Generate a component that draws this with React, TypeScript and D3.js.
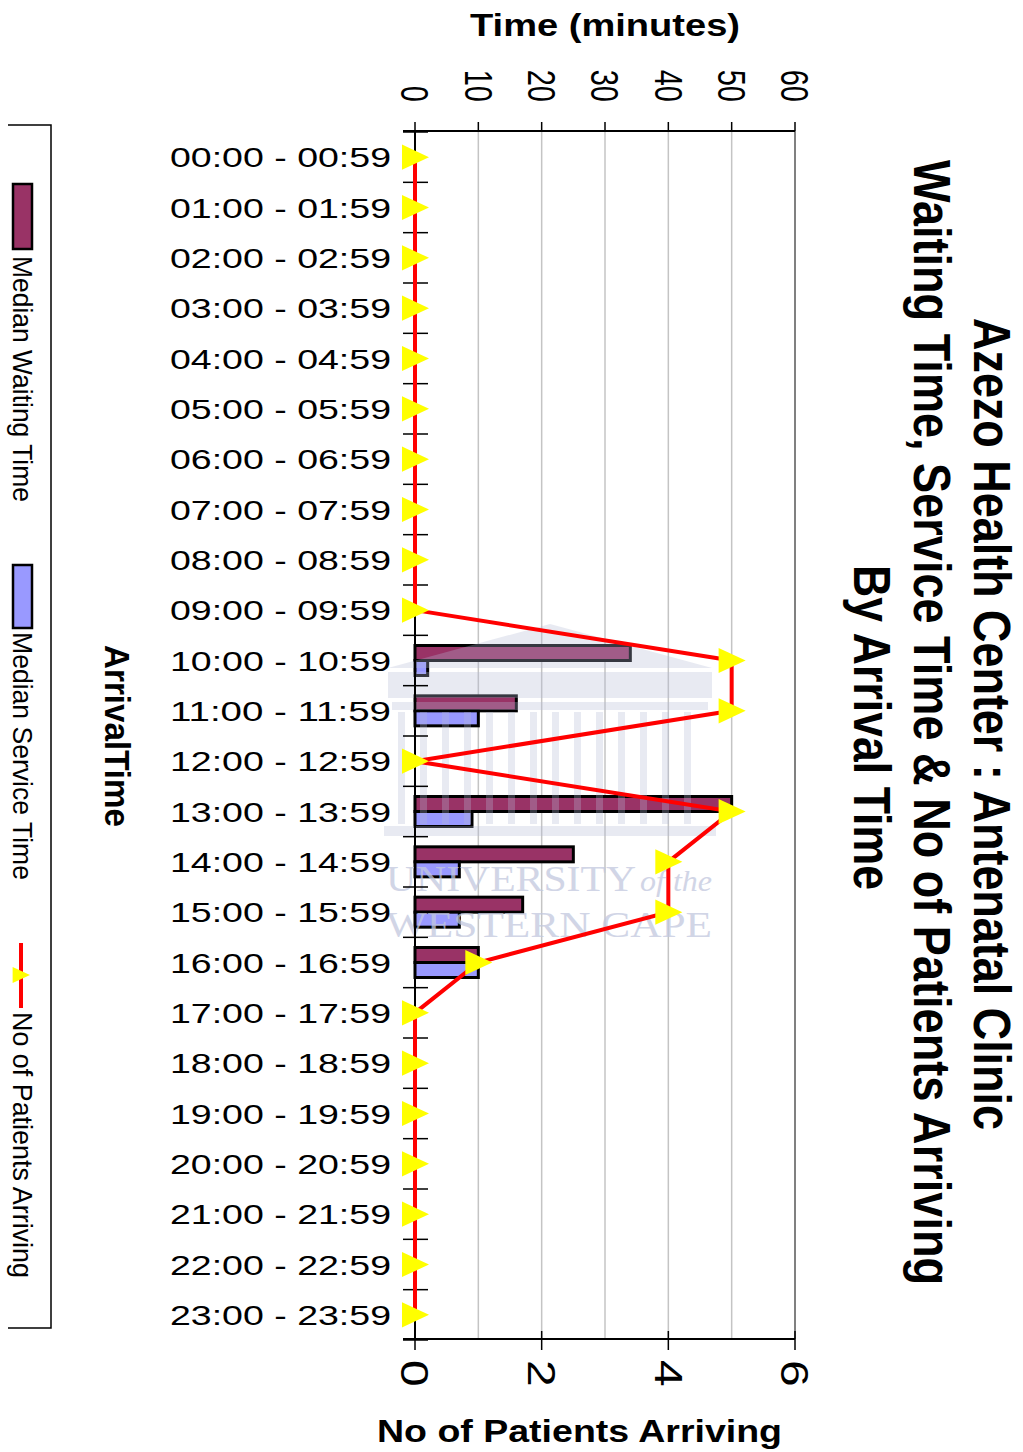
import React from 'react';
import * as d3 from 'd3';

const categories = [
  "00:00 - 00:59", "01:00 - 01:59", "02:00 - 02:59", "03:00 - 03:59",
  "04:00 - 04:59", "05:00 - 05:59", "06:00 - 06:59", "07:00 - 07:59",
  "08:00 - 08:59", "09:00 - 09:59", "10:00 - 10:59", "11:00 - 11:59",
  "12:00 - 12:59", "13:00 - 13:59", "14:00 - 14:59", "15:00 - 15:59",
  "16:00 - 16:59", "17:00 - 17:59", "18:00 - 18:59", "19:00 - 19:59",
  "20:00 - 20:59", "21:00 - 21:59", "22:00 - 22:59", "23:00 - 23:59",
];
const waitingTime = [0, 0, 0, 0, 0, 0, 0, 0, 0, 0, 34, 16, 0, 50, 25, 17, 10, 0, 0, 0, 0, 0, 0, 0];
const serviceTime = [0, 0, 0, 0, 0, 0, 0, 0, 0, 0, 2, 10, 0, 9, 7, 7, 10, 0, 0, 0, 0, 0, 0, 0];
const patientsArriving = [0, 0, 0, 0, 0, 0, 0, 0, 0, 0, 5, 5, 0, 5, 4, 4, 1, 0, 0, 0, 0, 0, 0, 0];
const timeTicks = [0, 10, 20, 30, 40, 50, 60];
const patientTicks = [0, 2, 4, 6];
const seriesNames = ["Median Waiting Time", "Median Service Time", "No of Patients Arriving"];
const titleLines = [
  "Azezo Health Center : Antenatal Clinic",
  "Waiting Time, Service Time & No of Patients Arriving",
  "By Arrival Time",
];
const timeAxisTitle = "Time (minutes)";
const patientAxisTitle = "No of Patients Arriving";
const categoryAxisTitle = "ArrivalTime";

const FONT = "'Liberation Sans', Arial, Helvetica, sans-serif";
const WAIT_COLOR = "#993366";
const SERVICE_COLOR = "#9999ff";

export default function App() {
  const W = 1023, H = 1452;
  const x0 = 415, x1 = 795, yTop = 132, yBot = 1340;
  const axTop = 131, axBot = 1339;

  const y = d3.scaleBand<string>().domain(categories).range([yTop, yBot]).padding(0);
  const xT = d3.scaleLinear().domain([0, 60]).range([x0, x1]);
  const xP = d3.scaleLinear().domain([0, 6]).range([x0, x1]);
  const sub = d3.scaleBand<string>().domain(["w", "s"]).range([-15, 15]).padding(0);
  const yc = (i: number) => (y(categories[i]) as number) + y.bandwidth() / 2;

  const linePath = d3.line<number>()
    .x((d) => xP(d))
    .y((_d, i) => yc(i))(patientsArriving) as string;

  const tri = (s: number) => `M${-0.93 * s},${-0.9 * s} L${s},0 L${-0.93 * s},${0.9 * s} Z`;

  const boundaries = d3.range(categories.length + 1).map((i) => yTop + i * y.step());

  return (
    <svg width={W} height={H} style={{ position: 'absolute', left: 0, top: 0, background: '#fff' }}
      fontFamily={FONT}>
      <rect x={0} y={0} width={W} height={H} fill="#fff" />

      {/* gridlines */}
      {timeTicks.filter((t) => t > 0 && t < 60).map((t) => (
        <line key={'g' + t} x1={xT(t)} x2={xT(t)} y1={axTop} y2={axBot} stroke="#c4c4c4" strokeWidth={1.5} />
      ))}
      <line x1={xT(60)} x2={xT(60)} y1={axTop} y2={axBot} stroke="#808080" strokeWidth={2} />

      {/* bars */}
      {categories.map((c, i) => (
        <g key={'b' + i}>
          {waitingTime[i] > 0 && (
            <rect x={xT(0)} y={yc(i) + (sub('w') as number)} width={xT(waitingTime[i]) - xT(0)}
              height={sub.bandwidth()} fill={WAIT_COLOR} stroke="#000" strokeWidth={3} />
          )}
          {serviceTime[i] > 0 && (
            <rect x={xT(0)} y={yc(i) + (sub('s') as number)} width={xT(serviceTime[i]) - xT(0)}
              height={sub.bandwidth()} fill={SERVICE_COLOR} stroke="#000" strokeWidth={3} />
          )}
        </g>
      ))}

      {/* watermark */}
      <g fill="#b4bbd6" opacity={0.3}>
        <path d="M388,668 L550,624 L712,668 Z" />
        <rect x={388} y={672} width={324} height={26} />
        <rect x={392} y={702} width={316} height={8} />
        {d3.range(0, 14).map((k) => (
          <rect key={'c' + k} x={398 + k * 22} y={712} width={7} height={112} />
        ))}
        <rect x={384} y={826} width={332} height={10} />
      </g>
      <g fill="#c2c8de" opacity={0.75}>
        <text x={386} y={891} fontFamily="'Liberation Serif', 'DejaVu Serif', serif" fontSize={36}
          textLength={250} lengthAdjust="spacingAndGlyphs">UNIVERSITY</text>
        <text x={640} y={891} fontFamily="'Liberation Serif', 'DejaVu Serif', serif" fontSize={30}
          fontStyle="italic" textLength={72} lengthAdjust="spacingAndGlyphs">of the</text>
        <text x={386} y={937} fontFamily="'Liberation Serif', 'DejaVu Serif', serif" fontSize={36}
          textLength={326} lengthAdjust="spacingAndGlyphs">WESTERN CAPE</text>
      </g>

      {/* category axis */}
      <line x1={x0} x2={x0} y1={axTop} y2={axBot} stroke="#000" strokeWidth={2} />
      {boundaries.map((b, i) => (
        <line key={'t' + i} x1={403} x2={428} y1={b} y2={b} stroke="#000" strokeWidth={1.5} />
      ))}
      {categories.map((c, i) => (
        <text key={'l' + i} x={170} y={yc(i) + 10} textLength={221} lengthAdjust="spacingAndGlyphs"
          fontSize={28} fill="#000">{c}</text>
      ))}

      {/* top time axis */}
      <line x1={403} x2={x1} y1={axTop} y2={axTop} stroke="#000" strokeWidth={2} />
      {timeTicks.map((t) => (
        <g key={'tt' + t}>
          <line x1={xT(t)} x2={xT(t)} y1={122} y2={axTop} stroke="#000" strokeWidth={1.5} />
          <text transform={`translate(${xT(t)},102) scale(1.35,1) rotate(90)`} textAnchor="end"
            dy="0.35em" fontSize={29} fill="#000">{t}</text>
        </g>
      ))}

      {/* bottom patient axis */}
      <line x1={403} x2={x1} y1={axBot} y2={axBot} stroke="#000" strokeWidth={2} />
      {patientTicks.map((t) => (
        <g key={'pt' + t}>
          <line x1={xP(t)} x2={xP(t)} y1={1331} y2={1350} stroke="#000" strokeWidth={1.5} />
          <text transform={`translate(${xP(t)},1360) scale(0.82,1) rotate(90)`} textAnchor="start"
            dy="0.35em" fontSize={48} fill="#000">{t}</text>
        </g>
      ))}

      {/* patients line */}
      <path d={linePath} fill="none" stroke="#ff0000" strokeWidth={4} strokeLinejoin="miter" />
      {patientsArriving.map((v, i) => (
        <path key={'m' + i} d={tri(14)} transform={`translate(${xP(v)},${yc(i)})`} fill="#ffff00" />
      ))}

      {/* axis titles */}
      <text x={470} y={36} fontSize={32} fontWeight="bold" textLength={270}
        lengthAdjust="spacingAndGlyphs">{timeAxisTitle}</text>
      <text x={377} y={1442} fontSize={31} fontWeight="bold" textLength={405}
        lengthAdjust="spacingAndGlyphs">{patientAxisTitle}</text>
      <text transform="translate(105,645) rotate(90)" fontSize={35} fontWeight="bold" textLength={182}
        lengthAdjust="spacingAndGlyphs">{categoryAxisTitle}</text>

      {/* title */}
      <text transform="translate(974,318) rotate(90)" fontSize={51} fontWeight="bold" textLength={812}
        lengthAdjust="spacingAndGlyphs">{titleLines[0]}</text>
      <text transform="translate(914,160) rotate(90)" fontSize={51} fontWeight="bold" textLength={1125}
        lengthAdjust="spacingAndGlyphs">{titleLines[1]}</text>
      <text transform="translate(854,565) rotate(90)" fontSize={51} fontWeight="bold" textLength={325}
        lengthAdjust="spacingAndGlyphs">{titleLines[2]}</text>

      {/* legend */}
      <path d="M8,125 L51,125 L51,1328 L8,1328" fill="none" stroke="#000" strokeWidth={1.5} />
      <rect x={13} y={184} width={19} height={65} fill={WAIT_COLOR} stroke="#000" strokeWidth={2.5} />
      <text transform="translate(13,256) rotate(90)" fontSize={28} textLength={246}
        lengthAdjust="spacingAndGlyphs">{seriesNames[0]}</text>
      <rect x={13} y={565} width={19} height={63} fill={SERVICE_COLOR} stroke="#000" strokeWidth={2.5} />
      <text transform="translate(13,632) rotate(90)" fontSize={28} textLength={248}
        lengthAdjust="spacingAndGlyphs">{seriesNames[1]}</text>
      <line x1={21} x2={21} y1={943} y2={1008} stroke="#ff0000" strokeWidth={4} />
      <path d={tri(9)} transform="translate(21,975)" fill="#ffff00" />
      <text transform="translate(13,1012) rotate(90)" fontSize={28} textLength={266}
        lengthAdjust="spacingAndGlyphs">{seriesNames[2]}</text>
    </svg>
  );
}
